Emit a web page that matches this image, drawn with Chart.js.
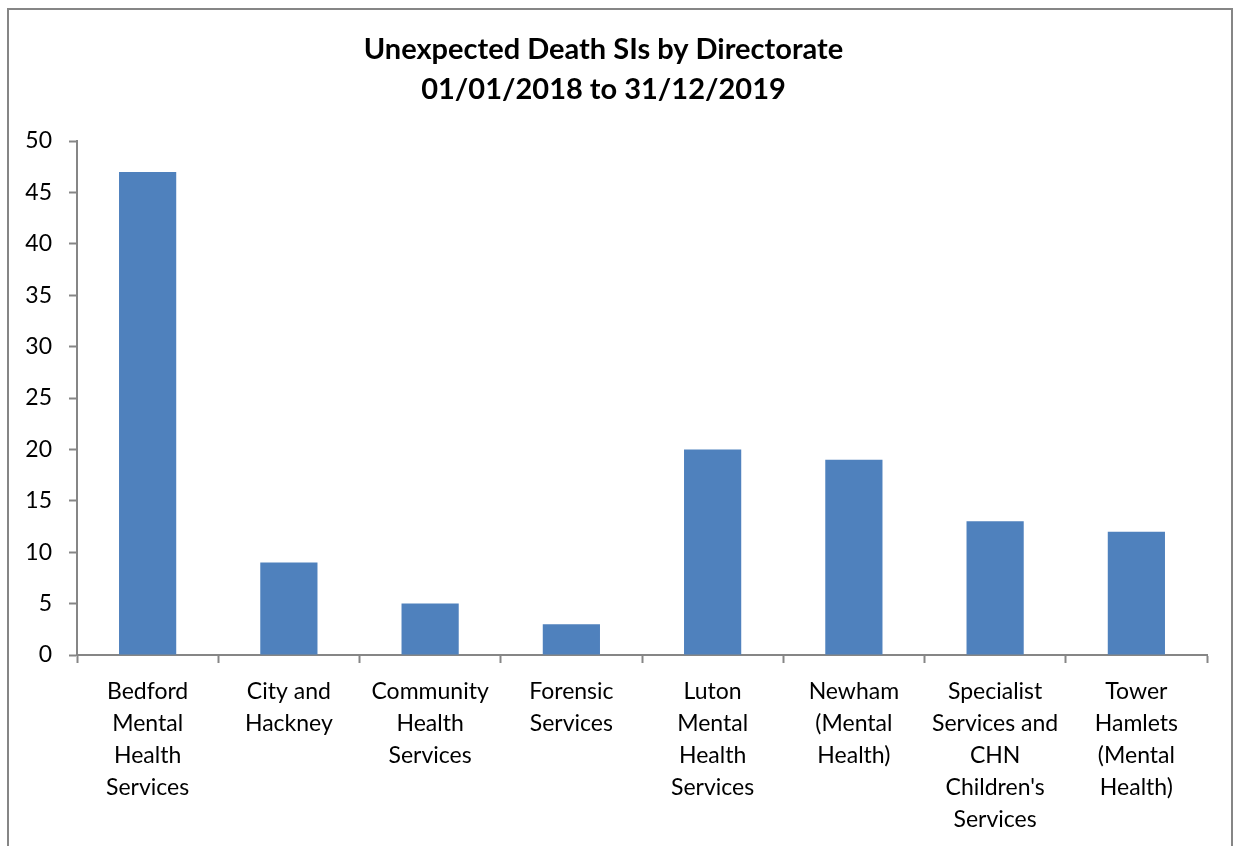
<!DOCTYPE html>
<html>
<head>
<meta charset="utf-8">
<script src="https://cdn.jsdelivr.net/npm/chart.js@4/dist/chart.umd.min.js"></script>
<style>
  html, body { margin: 0; padding: 0; background: #fff; overflow: hidden; }
  #wrap { position: absolute; left: 0; top: 0; width: 1237px; height: 846px; }
  #frame {
    position: absolute; left: 7px; top: 8px; width: 1226px; height: 900px;
    border: 2px solid #868686; box-sizing: border-box; pointer-events: none;
  }
</style>
</head>
<body>
<div id="wrap"><canvas id="siChart" width="1237" height="846"></canvas></div>
<div id="frame"></div>
<script>
// Directorates (x categories, wrapped as they appear under each bar)
const directorates = [
  ['Bedford', 'Mental', 'Health', 'Services'],
  ['City and', 'Hackney'],
  ['Community', 'Health', 'Services'],
  ['Forensic', 'Services'],
  ['Luton', 'Mental', 'Health', 'Services'],
  ['Newham', '(Mental', 'Health)'],
  ['Specialist', 'Services and', 'CHN', "Children's", 'Services'],
  ['Tower', 'Hamlets', '(Mental', 'Health)']
];

// Unexpected death SIs per directorate
const siCounts = [47, 9, 5, 3, 20, 19, 13, 12];

// Y axis range
const yMin = 0;
const yMax = 50;
const yStep = 5;

const titleLines = ['Unexpected Death SIs by Directorate', '01/01/2018 to 31/12/2019'];

function createChart() {
  const ctx = document.getElementById('siChart').getContext('2d');

  new Chart(ctx, {
    type: 'bar',
    data: {
      labels: directorates,
      datasets: [{
        data: siCounts,
        backgroundColor: '#4F81BD',
        borderWidth: 0,
        categoryPercentage: 1.0,
        barPercentage: 0.405
      }]
    },
    options: {
      responsive: false,
      animation: false,
      layout: { padding: { left: 0, right: 30, top: 0, bottom: 0 } },
      plugins: {
        legend: { display: false },
        tooltip: { enabled: false },
        title: {
          display: true,
          text: titleLines,
          color: '#000',
          font: { family: 'Lato', size: 29, weight: 'bold', lineHeight: 1.38 },
          padding: { top: 30, bottom: 31 }
        }
      },
      scales: {
        x: {
          offset: true,
          grid: {
            offset: true,
            drawOnChartArea: false,
            drawTicks: true,
            tickLength: 8,
            tickColor: '#868686',
            tickWidth: 2
          },
          border: { color: '#868686', width: 2 },
          ticks: {
            color: '#000',
            maxRotation: 0,
            autoSkip: false,
            padding: 12,
            font: { family: 'Lato', size: 23, lineHeight: 1.4 }
          },
          afterFit: function(scale) {
            scale.height = 191;
          }
        },
        y: {
          min: yMin,
          max: yMax,
          grid: {
            drawOnChartArea: false,
            drawTicks: true,
            tickLength: 8,
            tickColor: '#868686',
            tickWidth: 2
          },
          border: { color: '#868686', width: 2 },
          ticks: {
            stepSize: yStep,
            color: '#000',
            padding: 17,
            font: { family: 'Lato', size: 23 }
          },
          afterFit: function(scale) {
            scale.width = 77;
          }
        }
      }
    }
  });
}

window.onload = function() {
  createChart();
};
</script>
</body>
</html>
